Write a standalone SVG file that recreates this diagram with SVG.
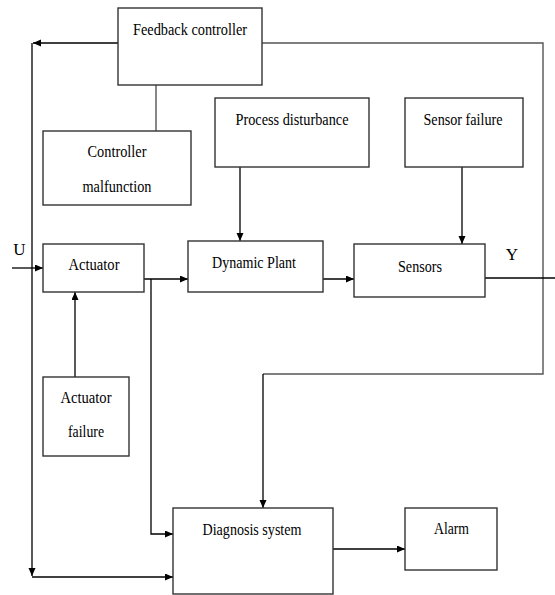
<svg xmlns="http://www.w3.org/2000/svg" width="555" height="595" viewBox="0 0 555 595">
<style>
.box{fill:#fff;stroke:#333;stroke-width:1.4}
.t{font-family:"Liberation Serif","Times New Roman",serif;font-size:17px;fill:#000;text-anchor:middle}
.c{fill:none;stroke:#000;stroke-width:1.3}
.g{fill:none;stroke:#555;stroke-width:1.4}
</style>
<defs>
<marker id="ah" markerUnits="userSpaceOnUse" markerWidth="9" markerHeight="8" refX="8" refY="3.5" orient="auto">
<path d="M0,0 L8,3.5 L0,7 z" fill="#000"/>
</marker>
</defs>
<rect width="555" height="595" fill="#fff"/>
<g id="connectors">
<path class="c" d="M118,43 H33" marker-end="url(#ah)"/>
<path class="c" d="M32,43 V576" marker-end="url(#ah)"/>
<path class="c" d="M32,577 H173" marker-end="url(#ah)"/>
<path class="g" d="M156,85 V131"/>
<path class="g" d="M262,43 H543 V374 H263"/>
<path class="c" d="M263,374 V508" marker-end="url(#ah)"/>
<path class="c" d="M240,167 V241" marker-end="url(#ah)"/>
<path class="c" d="M462,167 V244" marker-end="url(#ah)"/>
<path class="c" d="M12,268 H43" marker-end="url(#ah)"/>
<path class="c" d="M144,279 H188" marker-end="url(#ah)"/>
<path class="c" d="M151,279 V534 H173" marker-end="url(#ah)"/>
<path class="c" d="M75,377 V292" marker-end="url(#ah)"/>
<path class="c" d="M320,279 H354" marker-end="url(#ah)"/>
<path class="c" d="M485,278 H555"/>
<path class="c" d="M333,549 H405" marker-end="url(#ah)"/>
</g>
<g id="feedback-controller">
<rect class="box" x="118" y="8" width="144" height="77"/>
<text class="t" x="190" y="35" textLength="114" lengthAdjust="spacingAndGlyphs">Feedback controller</text>
</g>
<g id="controller-malfunction">
<rect class="box" x="43" y="131" width="148" height="74"/>
<text class="t" x="117" y="157" textLength="59" lengthAdjust="spacingAndGlyphs">Controller</text>
<text class="t" x="117" y="192" textLength="69" lengthAdjust="spacingAndGlyphs">malfunction</text>
</g>
<g id="process-disturbance">
<rect class="box" x="215" y="98" width="154" height="69"/>
<text class="t" x="292" y="125" textLength="113" lengthAdjust="spacingAndGlyphs">Process disturbance</text>
</g>
<g id="sensor-failure">
<rect class="box" x="405" y="98" width="118" height="69"/>
<text class="t" x="463" y="125" textLength="79" lengthAdjust="spacingAndGlyphs">Sensor failure</text>
</g>
<g id="actuator">
<rect class="box" x="43" y="244" width="101" height="48"/>
<text class="t" x="94" y="270" textLength="51" lengthAdjust="spacingAndGlyphs">Actuator</text>
</g>
<g id="dynamic-plant">
<rect class="box" x="188" y="241" width="135" height="51"/>
<text class="t" x="254" y="268" textLength="84" lengthAdjust="spacingAndGlyphs">Dynamic Plant</text>
</g>
<g id="sensors">
<rect class="box" x="354" y="244" width="131" height="53"/>
<text class="t" x="420" y="272" textLength="44" lengthAdjust="spacingAndGlyphs">Sensors</text>
</g>
<g id="labels">
<text class="t" x="19.5" y="255">U</text>
<text class="t" x="512" y="260">Y</text>
</g>
<g id="actuator-failure">
<rect class="box" x="43" y="377" width="86" height="79"/>
<text class="t" x="86" y="403" textLength="51" lengthAdjust="spacingAndGlyphs">Actuator</text>
<text class="t" x="86" y="437" textLength="36" lengthAdjust="spacingAndGlyphs">failure</text>
</g>
<g id="diagnosis-system">
<rect class="box" x="173" y="508" width="160" height="86"/>
<text class="t" x="252" y="535" textLength="99" lengthAdjust="spacingAndGlyphs">Diagnosis system</text>
</g>
<g id="alarm">
<rect class="box" x="405" y="508" width="92" height="62"/>
<text class="t" x="451.5" y="534" textLength="35" lengthAdjust="spacingAndGlyphs">Alarm</text>
</g>
</svg>
